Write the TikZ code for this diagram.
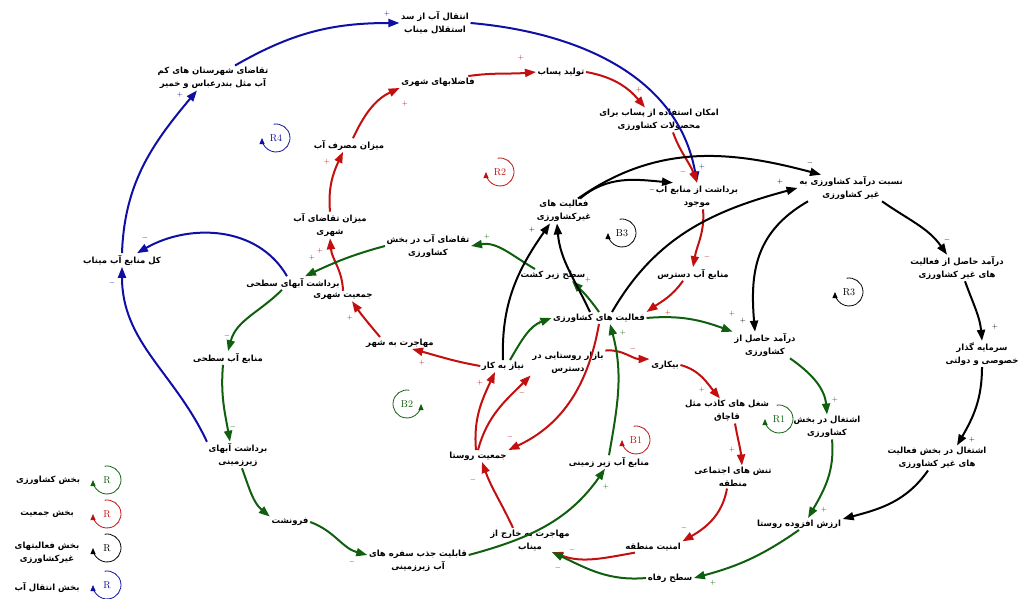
\documentclass[tikz,border=0pt]{standalone}
\usepackage{fontspec}
\usetikzlibrary{arrows.meta}
\newfontfamily\fa[Script=Arabic]{DejaVu Sans}
\TeXXeTstate=1
\newcommand{\fl}[1]{\beginR#1\endR}
\definecolor{cb}{RGB}{15,15,165}
\definecolor{cr}{RGB}{195,15,15}
\definecolor{cg}{RGB}{15,95,15}
\definecolor{ck}{RGB}{0,0,0}
\begin{document}
\begin{tikzpicture}[x=1pt,y=-1pt,
  lbl/.style={font=\fa\bfseries\fontsize{8.5}{13}\selectfont, align=center, inner sep=1.5pt},
  lnk/.style={line width=2pt, -{Triangle[length=11pt,width=8pt]}},
  bl/.style={lnk,draw=cb}, rd/.style={lnk,draw=cr},
  gr/.style={lnk,draw=cg}, bk/.style={lnk,draw=ck},
  sg/.style={font=\fontsize{7}{7}\selectfont, inner sep=0pt},
  lp/.style={font=\fontsize{10}{10}\selectfont, inner sep=0pt},
  lparc/.style={line width=0.8pt, -{Triangle[length=6pt,width=5pt]}}
]
\useasboundingbox (0,0) rectangle (1019,599);

% ---------- variables ----------
\node[lbl] (ent) at (435,23) {\fl{انتقال آب از سد}\\\fl{استقلال میناب}};
\node[lbl] (taq) at (213,78) {\fl{تقاضای شهرستان های کم}\\\fl{آب مثل بندرعباس و خمیر}};
\node[lbl] (faz) at (438,82) {\fl{فاضلابهای شهری}};
\node[lbl] (tol) at (561,72) {\fl{تولید پساب}};
\node[lbl] (emk) at (659,120) {\fl{امکان استفاده از پساب برای}\\\fl{محصولات کشاورزی}};
\node[lbl] (mas) at (349,145) {\fl{میزان مصرف آب}};
\node[lbl] (bar) at (697,196) {\fl{برداشت از منابع آب}\\\fl{موجود}};
\node[lbl] (nes) at (851,188) {\fl{نسبت درآمد کشاورزی به}\\\fl{غیر کشاورزی}};
\node[lbl] (fgk) at (564,211) {\fl{فعالیت های}\\\fl{غیرکشاورزی}};
\node[lbl] (mtq) at (330,225) {\fl{میزان تقاضای آب}\\\fl{شهری}};
\node[lbl] (tqk) at (428,246) {\fl{تقاضای آب در بخش}\\\fl{کشاورزی}};
\node[lbl] (kol) at (122,260) {\fl{کل منابع آب میناب}};
\node[lbl] (bas) at (293,283) {\fl{برداشت آبهای سطحی}};
\node[lbl] (jsh) at (343,296) {\fl{جمعیت شهری}};
\node[lbl] (szk) at (553,275) {\fl{سطح زیر کشت}};
\node[lbl] (mad) at (693,274) {\fl{منابع آب دسترس}};
\node[lbl] (dgk) at (957,268) {\fl{درآمد حاصل از فعالیت}\\\fl{های غیر کشاورزی}};
\node[lbl] (fk) at (599,318) {\fl{فعالیت های کشاورزی}};
\node[lbl] (mas2) at (228,358) {\fl{منابع آب سطحی}};
\node[lbl] (mhs) at (400,343) {\fl{مهاجرت به شهر}};
\node[lbl] (nbk) at (503,366) {\fl{نیاز به کار}};
\node[lbl] (bzr) at (568,363) {\fl{بازار روستایی در}\\\fl{دسترس}};
\node[lbl] (dk) at (765,345) {\fl{درآمد حاصل از}\\\fl{کشاورزی}};
\node[lbl] (srm) at (982,354) {\fl{سرمایه گذار}\\\fl{خصوصی و دولتی}};
\node[lbl] (bik) at (665,365) {\fl{بیکاری}};
\node[lbl] (shk) at (727,411) {\fl{شغل های کاذب مثل}\\\fl{قاچاق}};
\node[lbl] (ek) at (827,427) {\fl{اشتغال در بخش}\\\fl{کشاورزی}};
\node[lbl] (bz) at (238,455) {\fl{برداشت آبهای}\\\fl{زیرزمینی}};
\node[lbl] (egk) at (937,458) {\fl{اشتغال در بخش فعالیت}\\\fl{های غیر کشاورزی}};
\node[lbl] (jr) at (478,456) {\fl{جمعیت روستا}};
\node[lbl] (maz) at (609,462) {\fl{منابع آب زیر زمینی}};
\node[lbl] (tan) at (733,477) {\fl{تنش های اجتماعی}\\\fl{منطقه}};
\node[lbl] (for) at (290,522) {\fl{فرونشت}};
\node[lbl] (arz) at (799,524) {\fl{ارزش افزوده روستا}};
\node[lbl] (mkh) at (530,540) {\fl{مهاجرت به خارج از}\\\fl{میناب}};
\node[lbl] (amn) at (653,547) {\fl{امنیت منطقه}};
\node[lbl] (qab) at (418,561) {\fl{قابلیت جذب سفره های}\\\fl{آب زیرزمینی}};
\node[lbl] (rfh) at (670,578) {\fl{سطح رفاه}};

% ---------- blue links ----------
\draw[bl] (bz.north west) to[out=115,in=270] (kol.south);
\draw[bl] ([xshift=-6pt]bas.north) to[out=120,in=30] ([xshift=15pt]kol.north);
\draw[bl] (kol.north) to[out=88,in=230] ([xshift=-16pt]taq.south);
\draw[bl] ([xshift=22pt]taq.north) to[out=30,in=180] (ent.west);
\draw[bl] (ent.east) to[out=-5,in=100] (bar.north);

% ---------- red links ----------
\draw[rd] (jsh.north) to[out=92,in=275] (mtq.south);
\draw[rd] (mtq.north) to[out=95,in=245] ([xshift=-6pt]mas.south);
\draw[rd] ([xshift=4pt]mas.north) to[out=65,in=205] (faz.south west);
\draw[rd] ([xshift=-8pt]faz.north east) to[out=8,in=185] (tol.west);
\draw[rd] (tol.east) to[out=-10,in=130] ([xshift=-14pt]emk.north);
\draw[rd] ([xshift=14pt]emk.south) to[out=-70,in=110] (bar.north);
\draw[rd] ([xshift=6pt]bar.south) to[out=-85,in=80] (mad.north);
\draw[rd] ([xshift=-10pt]mad.south) to[out=235,in=35] (fk.north east);
\draw[rd] ([xshift=-20pt]mhs.north) to[out=130,in=305] ([xshift=9pt]jsh.south);
\draw[rd] (nbk.west) to[out=170,in=-15] ([xshift=12pt]mhs.south);
\draw[rd] ([xshift=-2pt]jr.north) to[out=95,in=245] ([xshift=-8pt]nbk.south);
\draw[rd] (jr.north) to[out=75,in=225] (bzr.south west);
\draw[rd] (fk.south) to[out=260,in=25] (jr.north east);
\draw[rd] (bzr.north east) to[out=5,in=180] (bik.north west);
\draw[rd] (bik.east) to[out=-15,in=130] ([xshift=-7pt]shk.north);
\draw[rd] ([xshift=8pt]shk.south) to[out=-80,in=95] ([xshift=9pt]tan.north);
\draw[rd] ([xshift=-6pt]tan.south) to[out=260,in=30] (amn.north east);
\draw[rd] ([xshift=-18pt]amn.south) to[out=190,in=-20] ([xshift=22pt]mkh.south);
\draw[rd] ([xshift=-17pt]mkh.north) to[out=115,in=-70] ([xshift=4pt]jr.south);

% ---------- green links ----------
\draw[gr] (tqk.west) to[out=195,in=25] ([xshift=12pt]bas.north);
\draw[gr] ([xshift=-11pt]bas.south) to[out=225,in=75] (mas2.north);
\draw[gr] ([xshift=-5pt]mas2.south) to[out=265,in=100] ([xshift=-8pt]bz.north);
\draw[gr] ([xshift=4pt]bz.south) to[out=-70,in=140] (for.north west);
\draw[gr] (for.east) to[out=-20,in=165] ([yshift=6pt]qab.west);
\draw[gr] ([yshift=6pt]qab.east) to[out=15,in=235] ([xshift=-4pt]maz.south);
\draw[gr] (maz.north) to[out=80,in=285] ([xshift=11pt]fk.south);
\draw[gr] (fk.north) to[out=125,in=315] ([xshift=19pt]szk.south);
\draw[gr] ([xshift=-18pt]szk.north) to[out=150,in=10] (tqk.east);
\draw[gr] ([xshift=7pt]nbk.north) to[out=60,in=200] (fk.west);
\draw[gr] (fk.east) to[out=5,in=160] (dk.north west);
\draw[gr] ([xshift=25pt]dk.south) to[out=-35,in=95] (ek.north);
\draw[gr] ([xshift=5pt]ek.south) to[out=-85,in=60] ([xshift=9pt]arz.north);
\draw[gr] (arz.south) to[out=215,in=15] (rfh.east);
\draw[gr] (rfh.west) to[out=185,in=-25] ([xshift=22pt]mkh.south);

% ---------- black links ----------
\draw[bk] ([xshift=16pt]fgk.north) to[out=40,in=175] ([xshift=-24pt]bar.north);
\draw[bk] ([xshift=14pt]fgk.north) to[out=35,in=165] ([xshift=-30pt]nes.north);
\draw[bk] ([xshift=13pt]fk.north) to[out=60,in=195] (nes.west);
\draw[bk] ([xshift=-43pt]nes.south) to[out=210,in=95,looseness=1.1] ([xshift=-10pt]dk.north);
\draw[bk] ([xshift=31pt]nes.south) to[out=-35,in=125] ([xshift=-10pt]dgk.north);
\draw[bk] ([xshift=8pt]dgk.south) to[out=-70,in=95] (srm.north);
\draw[bk] (srm.south) to[out=-90,in=60] ([xshift=20pt]egk.north);
\draw[bk] ([xshift=-9pt]egk.south) to[out=235,in=15] ([yshift=5pt]arz.east);
\draw[bk] (nbk.north) to[out=92,in=235] ([xshift=-14pt]fgk.south);
\draw[bk] ([xshift=-9pt]fk.north) to[out=115,in=275] ([xshift=-7pt]fgk.south);

% ---------- polarity signs ----------
\foreach \x/\y/\s/\c [count=\i] in {
  112/283/-/cb, 145/238/-/cb, 180/95/+/cb, 387/14/+/cb, 702/167/+/cb,
  320/251/+/cr, 327/162/+/cr, 405/104/+/cr, 521/58/+/cr, 639/90/+/cr,
  683/172/-/cr, 707/257/-/cr, 668/313/+/cr, 350/318/+/cr, 422/363/+/cr,
  480/383/+/cr, 522/393/-/cr, 510/437/-/cr, 633/349/-/cr, 702/390/+/cr,
  732/450/+/cr, 684/528/-/cr, 572/550/-/cr, 473/480/-/cr,
  312/258/+/cg, 227/336/-/cg, 233/427/-/cg, 263/512/+/cg, 352/562/-/cg,
  606/487/+/cg, 623/333/+/cg, 588/280/+/cg, 487/237/+/cg, 540/323/+/cg,
  732/314/+/cg, 835/400/+/cg, 824/510/+/cg, 713/583/+/cg, 558/568/-/cg,
  652/190/-/ck, 810/163/-/ck, 780/182/+/ck, 743/321/+/ck, 947/240/-/ck,
  995/327/+/ck, 972/440/+/ck, 532/230/+/ck}
  \node[sg,text=\c] (s\i) at (\x,\y) {$\s$};

% ---------- loop markers ----------
\foreach \nm/\x/\y/\c/\t in {lR4/276/138/cb/R4, lR2/500/172/cr/R2, lB3/622/233/ck/B3,
  lR3/849/292/ck/R3, lR1/779/419/cg/R1, lB1/636/440/cr/B1}{
  \node[lp,text=\c] (\nm) at (\x,\y) {\t};
  \draw[lparc,draw=\c] (\nm.center) ++(100:14pt) arc[start angle=100,end angle=-180,radius=14pt];
}
\node[lp,text=cg] (lB2) at (407,404) {B2};
\draw[lparc,draw=cg] (lB2.center) ++(80:14pt) arc[start angle=80,end angle=360,radius=14pt];

% ---------- legend ----------
\foreach \nm/\y/\c in {gA/480/cg, gB/514/cr, gC/548/ck, gD/585/cb}{
  \node[lp,text=\c] (\nm) at (107,\y) {R};
  \draw[lparc,draw=\c] (\nm.center) ++(100:14pt) arc[start angle=100,end angle=-180,radius=14pt];
}
\node[lbl] (tA) at (48,480) {\fl{بخش کشاورزی}};
\node[lbl] (tB) at (47,514) {\fl{بخش جمعیت}};
\node[lbl] (tC) at (47,553) {\fl{بخش فعالیتهای}\\\fl{غیرکشاورزی}};
\node[lbl] (tD) at (47,587) {\fl{بخش انتقال آب}};
\end{tikzpicture}
\end{document}
